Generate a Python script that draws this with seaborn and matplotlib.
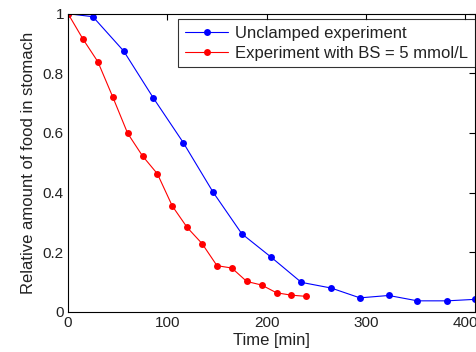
import matplotlib
matplotlib.use("Agg")
import matplotlib.pyplot as plt
import seaborn as sns
import pandas as pd

# Unclamped experiment: time [min] and relative amount of food left in the stomach
unclamped_time = [0, 25, 56, 86, 116, 146, 175, 204, 235, 265, 294, 323, 352, 382, 410]
unclamped_food = [1.0, 0.99, 0.875, 0.717, 0.568, 0.402, 0.262, 0.185, 0.099, 0.080,
                  0.047, 0.055, 0.037, 0.037, 0.042]

# Experiment with blood sugar clamped at 5 mmol/L
clamped_time = [0, 15, 30, 45, 60, 75, 90, 105, 120, 135, 150, 165, 180, 195, 210, 225, 240]
clamped_food = [1.0, 0.915, 0.839, 0.721, 0.599, 0.523, 0.463, 0.355, 0.283, 0.229,
                0.155, 0.147, 0.102, 0.090, 0.064, 0.056, 0.052]

series_names = ["Unclamped experiment", "Experiment with BS = 5 mmol/L"]
series_colors = ["#0000ff", "#ff0000"]

df = pd.concat([
    pd.DataFrame({"time": unclamped_time, "food": unclamped_food, "series": series_names[0]}),
    pd.DataFrame({"time": clamped_time, "food": clamped_food, "series": series_names[1]}),
])

sns.set_style("white")
plt.rcParams["font.family"] = ["Liberation Sans", "DejaVu Sans"]

fig = plt.figure(figsize=(4.76, 3.52), dpi=100)
ax = fig.add_axes([0.143, 0.114, 0.855, 0.847])

sns.lineplot(data=df, x="time", y="food", hue="series", hue_order=series_names,
             palette=series_colors, marker="o", markersize=5, markeredgewidth=0,
             linewidth=0.8, sort=False, ax=ax)

ax.set_xlim(0, 410)
ax.set_ylim(0, 1)
ax.set_xticks([0, 100, 200, 300, 400])
ax.set_yticks([0, 0.2, 0.4, 0.6, 0.8, 1.0])
ax.set_yticklabels(["0", "0.2", "0.4", "0.6", "0.8", "1"])
ax.set_xlabel("Time [min]", fontsize=12, labelpad=2, color="#222222")
ax.set_ylabel("Relative amount of food in stomach", fontsize=12, labelpad=5,
              color="#222222")

ax.tick_params(direction="in", length=4, width=0.8, top=True, right=True,
               labelsize=11, pad=3, colors="black", labelcolor="#222222")
for side in ax.spines.values():
    side.set_visible(True)
    side.set_color("black")
    side.set_linewidth(0.8)

leg = ax.legend(loc="upper right", fontsize=12, frameon=True, fancybox=False,
                edgecolor="black", borderaxespad=0, handlelength=2.6,
                borderpad=0.4, labelspacing=0.3, handletextpad=0.4,
                bbox_to_anchor=(0.999, 0.982))
leg.get_frame().set_linewidth(0.8)
for t in leg.get_texts():
    t.set_color("#222222")
for h in leg.legend_handles:
    h.set_markersize(5)

fig.savefig("out.png", dpi=100, facecolor="white")
